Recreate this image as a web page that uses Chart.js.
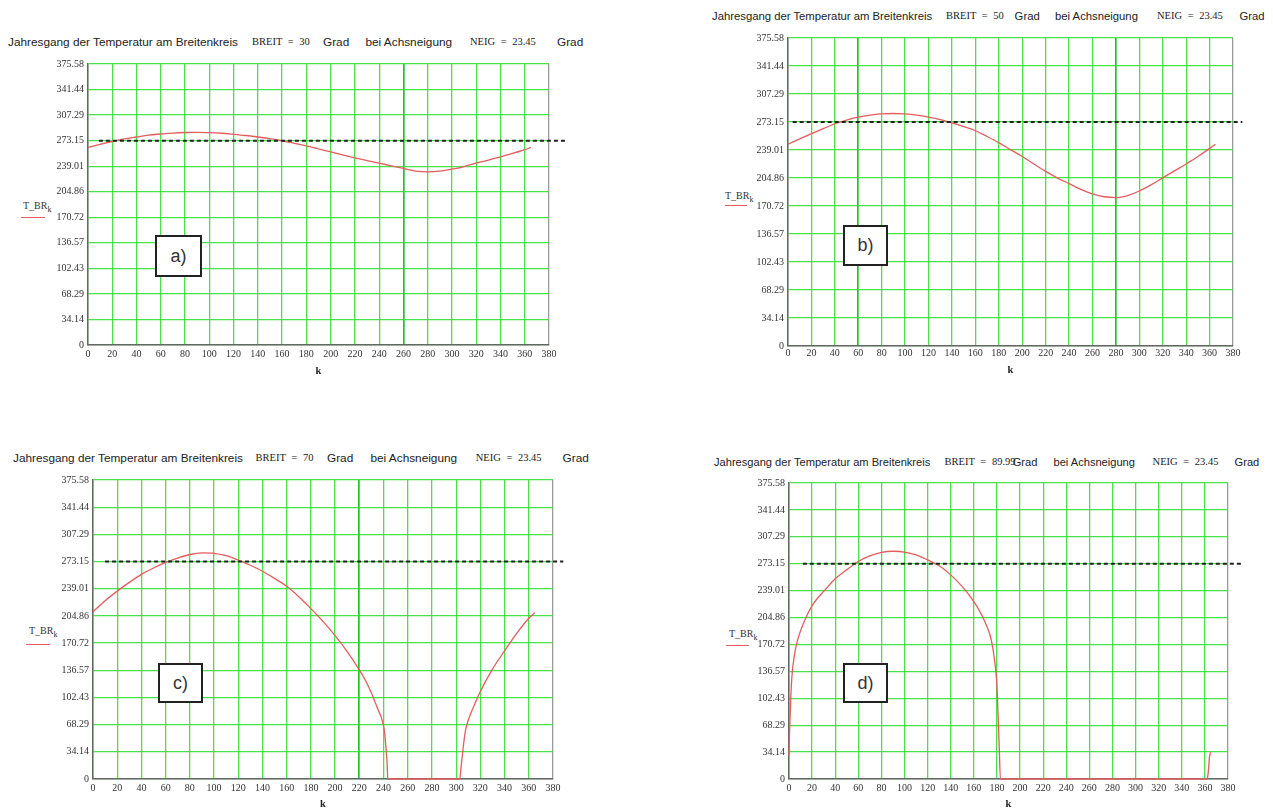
<!DOCTYPE html>
<html><head><meta charset="utf-8">
<script src="https://cdn.jsdelivr.net/npm/chart.js@4.4.1/dist/chart.umd.min.js"></script>
<style>
html,body{margin:0;padding:0;background:#fff;}
body{width:1273px;height:809px;overflow:hidden;position:relative;}
canvas{position:absolute;}
.t{position:absolute;white-space:nowrap;line-height:16px;height:16px;color:#222;}
.sans{font-family:"Liberation Sans",Arial,sans-serif;}
.serif{font-family:"Liberation Serif","Times New Roman",serif;font-size:10.5px;word-spacing:3px;}
.lg{position:absolute;font-family:"Liberation Serif","Times New Roman",serif;font-size:10px;color:#333;white-space:nowrap;line-height:12px;height:12px;}
.lg sub{font-size:8px;vertical-align:-3px;}
.lgline{position:absolute;height:0;border-top:1.5px solid #e35d5d;}
.box{position:absolute;border:2px solid #222;box-sizing:border-box;font-family:"Liberation Sans",Arial,sans-serif;font-size:18px;color:#333;display:flex;align-items:center;justify-content:center;background:#fff;}
</style></head><body>
<script>
// ---------- data ----------
const kStd = [0,10,20,30,40,50,60,70,80,90,100,110,120,130,140,150,160,170,180,190,200,210,220,230,240,250,260,270,280,290,300,310,320,330,340,350,360,365];
const tA = [264,268,272,275.5,278,280.5,282,283.3,284,284.2,283.8,283,281.6,280,278,275.8,273,269.5,266,262,258,254,250,246.5,243,239.5,236,232.5,231.5,232.5,235,238.5,243,247,251.5,256,261,264];
const tB = [246,252.5,259,265,271,275.5,279,281.5,283,283.5,283,281.5,279,276,272,267.5,262.5,255.5,248,239.5,231,222,213,205,198,191,185.5,182,181,183.5,189,196.5,205,213.5,222,231,241,246];
const kC = [0,10,20,30,40,50,60,70,80,90,100,110,120,130,140,150,160,170,180,190,200,210,220,225,230,235,238,240,241,242,243,243.5,303,304,305,306,307,308,310,312,315,320,330,340,350,360,365];
const tC = [210,224,236,247,257,265,272,277.5,282,284,283.5,280.5,275,268.5,261,252,242,229,214,198,180,160,137,124,108,89,78,67,57,40,18,0,0,14,28,42,54,63,74,82,93,110,138,161,183,202,209];
const kD = [0,0.5,1,1.5,2,3,4,5,7,10,15,20,25,30,40,50,60,70,80,90,100,110,120,130,140,150,160,165,170,175,178,180,181,182,183,362,363,364,365];
const tD = [30,60,80,100,118,138,150,160,174,188,206,220,230,238,254,265.5,276,283,287.5,289,288,284.5,278,270.5,259,244,225,213,198,177,150,118,80,40,0,0,10,28,34];
const xTicks = [0,20,40,60,80,100,120,140,160,180,200,220,240,260,280,300,320,340,360,380];
const yTickLabels = ['0','34.14','68.29','102.43','136.57','170.72','204.86','239.01','273.15','307.29','341.44','375.58'];
const freezeT = 273.15;
const breit = ['30','50','70','89.99'];
const neig = '23.45';
const panelNames = ['a)','b)','c)','d)'];
const titleMain = 'Jahresgang der Temperatur am Breitenkreis';

// ---------- layout ----------
const lays = [
 {cx:0,  cy:54,  cw:600, ch:324, L:88,  R:549,  T:64,  B:345, tp:3, marks:[260], dash:[9,394],
  ty:42, tfs:11.8, tx:[8,252,323,365.5,470,557], lgx:23, lgy:206, lnx:[21,45], lny:216.5, box:[155,235,47,42]},
 {cx:700,cy:28,  cw:573, ch:349, L:788, R:1233, T:38,  B:346, tp:1, marks:[60,280], dash:[4,388],
  ty:16, tfs:11.3, tx:[712,946,1014.6,1055,1157,1239.5], lgx:725, lgy:196, lnx:[725,747], lny:205, box:[843,225,45,41]},
 {cx:0,  cy:470, cw:600, ch:341, L:93,  R:553,  T:480, B:779, tp:3, marks:[220], dash:[10,388.5],
  ty:458, tfs:11.8, tx:[13,255.6,327,370.5,475.7,562.6], lgx:29, lgy:631, lnx:[26,50], lny:644, box:[158,663,45,40]},
 {cx:700,cy:473, cw:573, ch:338, L:789, R:1228, T:483, B:779, tp:3, marks:[], dash:[12,393],
  ty:462, tfs:11.1, tx:[714,944.6,1012.7,1053.5,1152.6,1234.6], lgx:729, lgy:634, lnx:[726,749], lny:645, box:[843,663,45,40]}
];
const series = [[kStd,tA],[kStd,tB],[kC,tC],[kD,tD]];

const GRID = 'rgba(40,222,40,0.85)';
const GRID_DARK = 'rgba(20,195,20,0.95)';
const yVals = yTickLabels.map(Number);

function addDiv(cls, html, styles){
  const d = document.createElement('div');
  d.className = cls; d.innerHTML = html;
  Object.assign(d.style, styles);
  document.body.appendChild(d);
  return d;
}

lays.forEach((lay, idx) => {
  // title
  const segs = [[titleMain,'sans'],['BREIT = '+breit[idx],'serif'],['Grad','sans'],['bei Achsneigung','sans'],['NEIG = '+neig,'serif'],['Grad','sans']];
  segs.forEach((s,i) => {
    const st = {left: lay.tx[i]+'px', top: (lay.ty-8)+'px'};
    if (s[1]==='sans') st.fontSize = lay.tfs+'px';
    addDiv('t '+s[1], s[0], st);
  });
  // legend
  addDiv('lg', 'T_BR<sub>k</sub>', {left: lay.lgx+'px', top:(lay.lgy-6)+'px'});
  addDiv('lgline', '', {left: lay.lnx[0]+'px', top: lay.lny+'px', width:(lay.lnx[1]-lay.lnx[0])+'px'});

  // chart
  const cv = document.createElement('canvas');
  cv.width = lay.cw; cv.height = lay.ch;
  Object.assign(cv.style, {left:lay.cx+'px', top:lay.cy+'px', width:lay.cw+'px', height:lay.ch+'px'});
  document.body.appendChild(cv);
  const [ks, ts] = series[idx];
  const curve = ks.map((k,i) => ({x:k, y:ts[i]}));
  const dashed = lay.dash.map(k => ({x:k, y:freezeT}));
  const tickFont = {family:'"Liberation Serif","Times New Roman",serif', size:10};
  new Chart(cv, {
    type:'line',
    data:{datasets:[
      {data:curve, borderColor:'#e35d5d', borderWidth:1.3, pointRadius:0, cubicInterpolationMode:'monotone', clip:false, order:2},
      {data:dashed, borderColor:'#222', borderWidth:2, borderDash:[4,3], pointRadius:0, clip:false, order:1}
    ]},
    options:{
      responsive:false, animation:false,
      plugins:{legend:{display:false}, tooltip:{enabled:false}, title:{display:false}},
      layout:{padding:{left:0, top:lay.T-lay.cy, right:lay.cx+lay.cw-lay.R, bottom:0}},
      scales:{
        x:{type:'linear', min:0, max:380,
          afterBuildTicks: s => { s.ticks = xTicks.map(v => ({value:v})); },
          afterFit: s => { s.height = lay.cy + lay.ch - lay.B; },
          ticks:{autoSkip:false, maxRotation:0, padding:lay.tp, color:'#333', font:tickFont, callback: v => String(v)},
          grid:{drawTicks:false,
            color: c => c.tick && c.tick.value === 380 ? '#9a9a9a' : (c.tick && lay.marks.includes(c.tick.value) ? GRID_DARK : GRID),
            lineWidth: c => c.tick && lay.marks.includes(c.tick.value) ? 1.7 : 1.3},
          border:{display:true, color:'#666', width:1.5},
          title:{display:true, text:'k', color:'#222', padding:{top:0,bottom:0}, font:{family:'"Liberation Serif","Times New Roman",serif', size:10.5, weight:'bold'}}
        },
        y:{type:'linear', min:0, max:375.58,
          afterBuildTicks: s => { s.ticks = yVals.map(v => ({value:v})); },
          afterFit: s => { s.width = lay.L - lay.cx; },
          ticks:{padding:4, color:'#333', font:tickFont, callback: (v,i) => yTickLabels[i]},
          grid:{drawTicks:false, color:GRID, lineWidth:1.3},
          border:{display:true, color:'#666', width:1.5}
        }
      }
    }
  });

  // panel label box
  addDiv('box', panelNames[idx], {left:lay.box[0]+'px', top:lay.box[1]+'px', width:lay.box[2]+'px', height:lay.box[3]+'px'});
});
</script>
</body></html>
